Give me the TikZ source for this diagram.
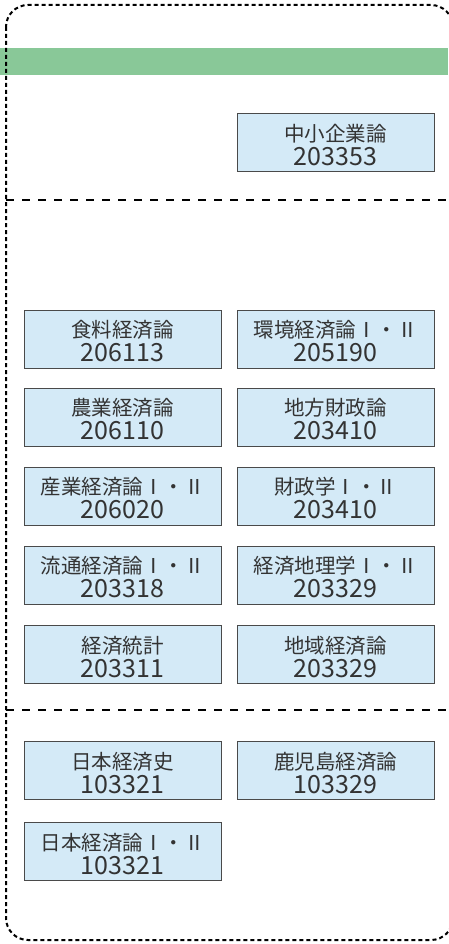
\documentclass[tikz,border=0pt]{standalone}
\usepackage{fontspec}
\setmainfont{Noto Sans CJK JP}
\newfontfamily\jpf{Noto Sans CJK JP}
\definecolor{bandgreen}{HTML}{89C898}
\definecolor{boxfill}{HTML}{D4EAF7}
\definecolor{boxline}{HTML}{4A4A4A}
\definecolor{txt}{HTML}{333333}
\newcommand{\jl}{\fontsize{20.5}{24}\selectfont}
\newcommand{\dg}{\fontsize{25}{24}\selectfont}
\tikzset{
  course/.style={draw=boxline, line width=1pt, fill=boxfill, minimum width=197pt, minimum height=58pt, inner sep=0pt, align=center, text=txt, font=\jpf\fontsize{20.5}{24}\selectfont},
  outerframe/.style={line width=2pt, dash pattern=on 4pt off 3pt, rounded corners=22pt},
  sepline/.style={line width=1.5pt, dash pattern=on 8pt off 8pt},
}
\newcommand{\crs}[2]{{\jl\rule{0pt}{22pt}#1}\\{\dg #2}}
\begin{document}
\begin{tikzpicture}[x=1pt,y=-1pt]
\useasboundingbox (0,0) rectangle (448,944);
\fill[bandgreen] (0,48) rectangle (448,75);
\draw[outerframe] (6,5) rectangle (453,940);
\coordinate (s1l) at (6,200); \coordinate (s1r) at (448,200);
\coordinate (s2l) at (6,710); \coordinate (s2r) at (448,710);
\draw[sepline] (s1l) -- (s1r);
\draw[sepline] (s2l) -- (s2r);
\node[course] (chusho) at (335.5,143) {\crs{中小企業論}{203353}};
\node[course] (shokuryo) at (122.5,339) {\crs{食料経済論}{206113}};
\node[course] (kankyo) at (335.5,339) {\crs{環境経済論Ⅰ・Ⅱ}{205190}};
\node[course] (nogyo) at (122.5,417) {\crs{農業経済論}{206110}};
\node[course] (chiho) at (335.5,417) {\crs{地方財政論}{203410}};
\node[course] (sangyo) at (122.5,496) {\crs{産業経済論Ⅰ・Ⅱ}{206020}};
\node[course] (zaisei) at (335.5,496) {\crs{財政学Ⅰ・Ⅱ}{203410}};
\node[course] (ryutsu) at (122.5,575) {\crs{流通経済論Ⅰ・Ⅱ}{203318}};
\node[course] (chiri) at (335.5,575) {\crs{経済地理学Ⅰ・Ⅱ}{203329}};
\node[course] (tokei) at (122.5,654.5) {\crs{経済統計}{203311}};
\node[course] (chiiki) at (335.5,654.5) {\crs{地域経済論}{203329}};
\node[course] (nihonshi) at (122.5,770.5) {\crs{日本経済史}{103321}};
\node[course] (kagoshima) at (335.5,770.5) {\crs{鹿児島経済論}{103329}};
\node[course] (nihonron) at (122.5,851.5) {\crs{日本経済論Ⅰ・Ⅱ}{103321}};
\end{tikzpicture}
\end{document}
